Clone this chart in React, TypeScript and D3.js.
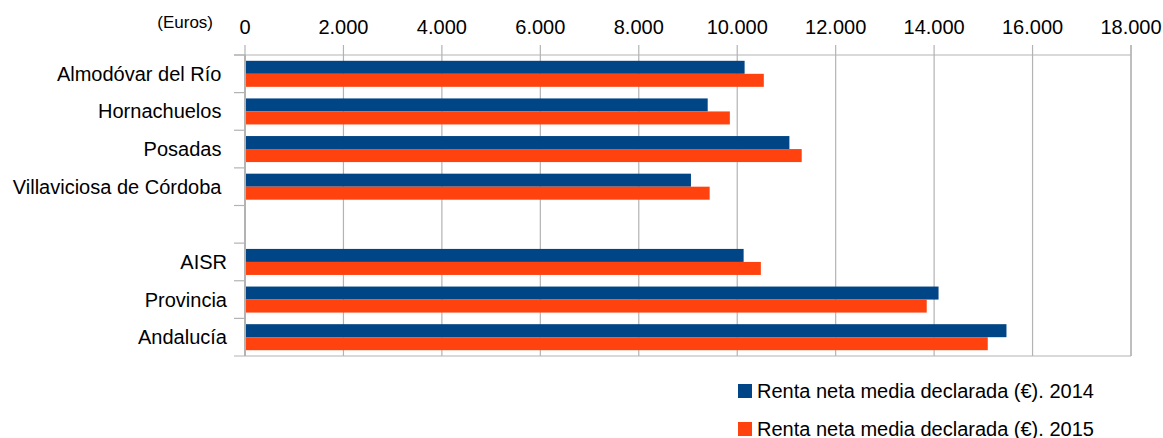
import React from "react";
import * as d3 from "d3";

const categories = [
  "Almodóvar del Río ",
  "Hornachuelos ",
  "Posadas ",
  "Villaviciosa de Córdoba ",
  "",
  "AISR",
  "Provincia",
  "Andalucía",
];
const values2014 = [10150, 9400, 11060, 9060, null, 10130, 14090, 15470];
const values2015 = [10540, 9850, 11310, 9440, null, 10480, 13850, 15090];
const seriesNames = ["Renta neta media declarada (€). 2014", "Renta neta media declarada (€). 2015"];
const seriesColors = ["#004586", "#ff420e"];
const xTicks = [0, 2000, 4000, 6000, 8000, 10000, 12000, 14000, 16000, 18000];
const unitLabel = "(Euros)";

const W = 1163;
const H = 438;
const FONT = "'Liberation Sans', Arial, sans-serif";

export default function App() {
  const x = d3.scaleLinear().domain([0, 18000]).range([245, 1131]);
  const y = d3.scaleBand<string>().domain(categories.map((c, i) => String(i))).range([55, 356]).paddingInner(0).paddingOuter(0);
  const sub = d3.scaleBand<string>().domain(["0", "1"]).range([0, y.bandwidth()]).paddingInner(0).paddingOuter(0.446);
  const fmt = d3.formatLocale({ decimal: ",", thousands: ".", grouping: [3], currency: ["", "€"] }).format(",");
  const series = [values2014, values2015];
  const grid = "#b3b3b3";
  const top = 55, bottom = 356, left = 245, right = 1131;

  return (
    <svg width={W} height={H} style={{ position: "fixed", left: 0, top: 0, background: "#fff" }} fontFamily={FONT}>
      <rect x={0} y={0} width={W} height={H} fill="#fff" />
      {xTicks.map((t) => (
        <line key={"g" + t} x1={x(t)} x2={x(t)} y1={top - 10} y2={bottom} stroke={grid} strokeWidth={1.2} />
      ))}
      <line x1={left - 11} x2={right} y1={top} y2={top} stroke={grid} strokeWidth={1.2} />
      <line x1={left - 11} x2={right} y1={bottom} y2={bottom} stroke={grid} strokeWidth={1.2} />
      <line x1={right} x2={right} y1={top - 10} y2={bottom} stroke={grid} strokeWidth={1.2} />
      {categories.map((c, i) => (
        <line key={"lt" + i} x1={left - 11} x2={left} y1={(y(String(i)) as number)} y2={(y(String(i)) as number)} stroke={grid} strokeWidth={1.2} />
      ))}
      {categories.map((c, i) =>
        series.map((s, k) => {
          const v = s[i];
          if (v == null) return null;
          return (
            <rect
              key={"b" + i + "-" + k}
              x={x(0)}
              y={(y(String(i)) as number) + (sub(String(k)) as number)}
              width={x(v) - x(0)}
              height={sub.bandwidth()}
              fill={seriesColors[k]}
            />
          );
        })
      )}
      <line x1={left} x2={left} y1={top} y2={bottom} stroke={grid} strokeWidth={2} />
      {xTicks.map((t) => (
        <text key={"tl" + t} x={x(t)} y={34} textAnchor="middle" fontSize={20} fill="#000">
          {fmt(t)}
        </text>
      ))}
      <text x={213} y={28} textAnchor="end" fontSize={17} fill="#000">{unitLabel}</text>
      {categories.map((c, i) => (
        <text
          key={"cl" + i}
          x={227}
          y={(y(String(i)) as number) + y.bandwidth() / 2 + 7}
          textAnchor="end"
          fontSize={20}
          fill="#000"
          style={{ whiteSpace: "pre" }}
        >
          {c}
        </text>
      ))}
      {seriesNames.map((n, k) => (
        <g key={"lg" + k} transform={`translate(738, ${384 + k * 38})`}>
          <rect x={0} y={0} width={14} height={14} fill={seriesColors[k]} />
          <text x={19} y={14} fontSize={20} fill="#000">{n}</text>
        </g>
      ))}
    </svg>
  );
}
